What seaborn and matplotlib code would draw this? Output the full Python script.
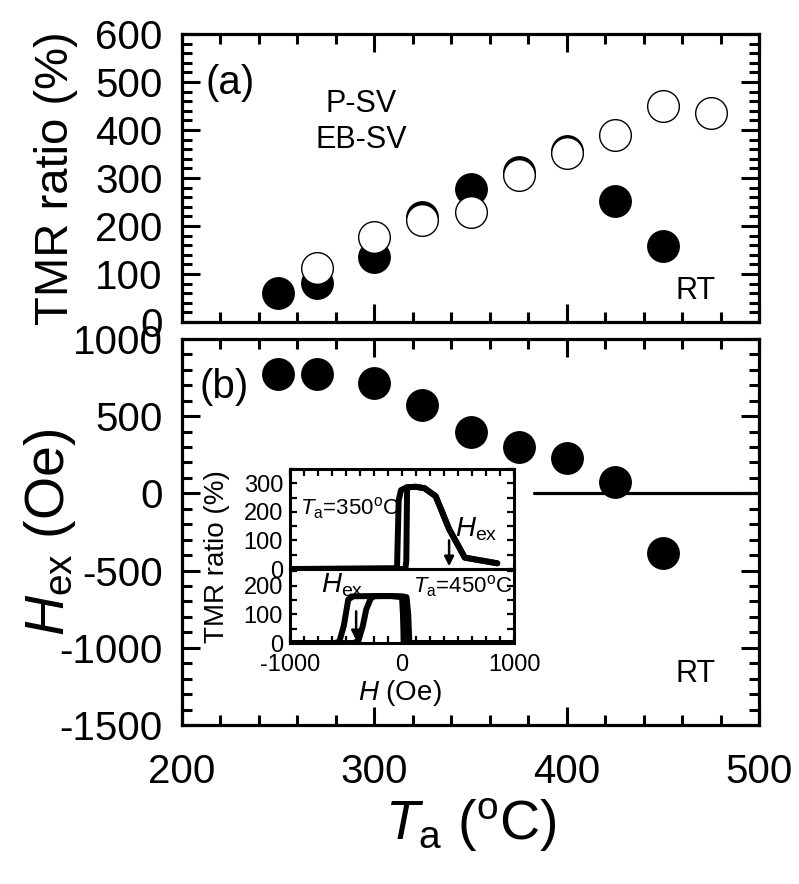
import numpy as np
import pandas as pd
import seaborn as sns
import matplotlib
matplotlib.use("Agg")
import matplotlib.pyplot as plt
from matplotlib.ticker import MultipleLocator

# (a) TMR ratio vs annealing temperature
ta_filled = [250, 270, 300, 325, 350, 375, 400, 425, 450]
tmr_filled = [60, 81, 135, 218, 278, 313, 357, 253, 159]
ta_open = [270, 300, 325, 350, 375, 400, 425, 450, 475]
tmr_open = [112, 177, 212, 229, 306, 352, 390, 450, 436]

# (b) exchange bias field vs annealing temperature
ta_hex = [250, 270, 300, 325, 350, 375, 400, 425, 450]
hex_vals = [770, 770, 716, 574, 400, 303, 232, 71, -387]
zero_line_t = [383, 500]
zero_line_h = [0, 0]

# inset: loops at Ta=350 C (top) and Ta=450 C (bottom)
h350_up = [-1000, -45, -30, -10, 40, 120, 200, 300, 420, 560, 850]
tmr350_up = [0, 3, 240, 276, 286, 288, 283, 255, 140, 40, 20]
h350_dn = [850, 560, 420, 300, 200, 120, 45, 38, 30, -1000]
tmr350_dn = [20, 40, 140, 255, 283, 288, 286, 30, 0, 0]

h450_dn = [1000, 65, 55, 40, 0, -200, -436, -480, -520, -560, -600, -1000]
tmr450_dn = [0, 0, 100, 160, 163, 164, 163, 152, 60, 5, 0, 0]
h450_up = [-1000, -430, -390, -350, -320, -280, -249, -100, 0, 8, 15, 1000]
tmr450_up = [0, 0, 8, 60, 117, 155, 163, 164, 160, 100, 0, 0]

sns.set_style("ticks")
plt.rcParams['font.family'] = ['Liberation Sans', 'DejaVu Sans']
plt.rcParams['mathtext.fontset'] = 'custom'
plt.rcParams['mathtext.rm'] = 'Liberation Sans'
plt.rcParams['mathtext.it'] = 'Liberation Sans:italic'
plt.rcParams['axes.unicode_minus'] = False
plt.rcParams['text.color'] = 'black'
plt.rcParams['axes.labelcolor'] = 'black'
plt.rcParams['xtick.color'] = 'black'
plt.rcParams['ytick.color'] = 'black'

fig = plt.figure(figsize=(7.99, 8.84), dpi=100)
ax_a = fig.add_axes([0.2278, 0.6357, 0.7222, 0.3258])
ax_b = fig.add_axes([0.2278, 0.1799, 0.7222, 0.4367])


def style_main(ax):
    for s in ax.spines.values():
        s.set_linewidth(2.3)
        s.set_color('black')
    ax.tick_params(which='both', direction='in', top=True, right=True,
                   width=2.2, colors='black', labelsize=29)
    ax.tick_params(which='major', length=13)
    ax.tick_params(which='minor', length=7)
    ax.tick_params(axis='y', pad=14)
    ax.tick_params(axis='x', pad=20)
    ax.set_xlim(200, 500)
    ax.xaxis.set_major_locator(MultipleLocator(100))
    ax.xaxis.set_minor_locator(MultipleLocator(20))


df_f = pd.DataFrame({'Ta': ta_filled, 'TMR': tmr_filled})
df_o = pd.DataFrame({'Ta': ta_open, 'TMR': tmr_open})
sns.scatterplot(data=df_f, x='Ta', y='TMR', ax=ax_a, s=560, color='black',
                linewidth=0, zorder=3)
sns.scatterplot(data=df_o, x='Ta', y='TMR', ax=ax_a, s=520, color='white',
                edgecolor='black', linewidth=1.0, zorder=4)
style_main(ax_a)
ax_a.set_ylim(0, 600)
ax_a.yaxis.set_major_locator(MultipleLocator(100))
ax_a.yaxis.set_minor_locator(MultipleLocator(20))
ax_a.tick_params(axis='x', labelbottom=False)
ax_a.set_xlabel('')
ax_a.set_ylabel('TMR ratio (%)', fontsize=34)
ax_a.yaxis.set_label_coords(-0.18, 0.5)
ax_a.text(212, 498, '(a)', fontsize=29, ha='left', va='center')
ax_a.text(293, 454, 'P-SV', fontsize=22, ha='center', va='center')
ax_a.text(293, 379, 'EB-SV', fontsize=22, ha='center', va='center')
ax_a.text(467, 65, 'RT', fontsize=22, ha='center', va='center')

df_b = pd.DataFrame({'Ta': ta_hex, 'Hex': hex_vals})
sns.lineplot(x=zero_line_t, y=zero_line_h, ax=ax_b, color='black', lw=2.3)
sns.scatterplot(data=df_b, x='Ta', y='Hex', ax=ax_b, s=560, color='black',
                linewidth=0, zorder=3)
style_main(ax_b)
ax_b.set_ylim(-1500, 1000)
ax_b.yaxis.set_major_locator(MultipleLocator(500))
ax_b.yaxis.set_minor_locator(MultipleLocator(100))
ax_b.set_ylabel(r'$H_{\mathrm{ex}}$ (Oe)', fontsize=40)
ax_b.yaxis.set_label_coords(-0.18, 0.5)
ax_b.set_xlabel(r'$T_{\mathrm{a}}$ ($^{\mathrm{o}}$C)', fontsize=40)
ax_b.xaxis.set_label_coords(0.5, -0.185)
ax_b.text(209, 690, '(b)', fontsize=29, ha='left', va='center')
ax_b.text(467, -1168, 'RT', fontsize=22, ha='center', va='center')

# inset
in_top = fig.add_axes([0.3630, 0.3563, 0.2804, 0.1131])
in_bot = fig.add_axes([0.3630, 0.2726, 0.2804, 0.0837])
for ax in (in_top, in_bot):
    for s in ax.spines.values():
        s.set_linewidth(2.2)
        s.set_color('black')
    ax.set_facecolor('white')
    ax.set_xlim(-1000, 1000)
    ax.xaxis.set_major_locator(MultipleLocator(1000))
    ax.xaxis.set_minor_locator(MultipleLocator(125))
    ax.yaxis.set_major_locator(MultipleLocator(100))
    ax.yaxis.set_minor_locator(MultipleLocator(50))
    ax.tick_params(which='both', direction='in', left=True, right=True,
                   width=1.6, length=5, labelsize=17, colors='black')
    ax.tick_params(axis='y', pad=5)
    ax.tick_params(axis='x', pad=8)

sns.lineplot(x=h350_up, y=tmr350_up, ax=in_top, sort=False, estimator=None,
             color='black', lw=4.3)
sns.lineplot(x=h350_dn, y=tmr350_dn, ax=in_top, sort=False, estimator=None,
             color='black', lw=4.3)
in_top.set_ylim(0, 350)
in_top.tick_params(axis='x', which='both', top=True, bottom=False,
                   labelbottom=False)
in_top.annotate('', xy=(420, 0), xytext=(420, 110),
                arrowprops=dict(arrowstyle='-|>', lw=1.8, color='black',
                                mutation_scale=14))
in_top.text(-470, 189, r'$\mathit{T}_{\mathrm{a}}$=350$^{\mathrm{o}}$C',
            fontsize=16, ha='center', va='baseline')
in_top.text(470, 115, r'$\mathit{H}_{\mathrm{ex}}$', fontsize=20,
            ha='left', va='baseline')

sns.lineplot(x=h450_dn, y=tmr450_dn, ax=in_bot, sort=False, estimator=None,
             color='black', lw=4.3)
sns.lineplot(x=h450_up, y=tmr450_up, ax=in_bot, sort=False, estimator=None,
             color='black', lw=4.3)
in_bot.set_ylim(0, 258)
in_bot.tick_params(axis='x', which='both', top=False, bottom=True)
in_bot.annotate('', xy=(-410, 0), xytext=(-410, 120),
                arrowprops=dict(arrowstyle='-|>', lw=1.8, color='black',
                                mutation_scale=14))
in_bot.text(-720, 176, r'$\mathit{H}_{\mathrm{ex}}$', fontsize=20,
            ha='left', va='baseline')
in_bot.text(95, 176, r'$\mathit{T}_{\mathrm{a}}$=450$^{\mathrm{o}}$C',
            fontsize=16, ha='left', va='baseline')
for ax in (in_top, in_bot):
    ax.set_xlabel('')
    ax.set_ylabel('')

fig.text(217 / 799, 1 - 557 / 884, 'TMR ratio (%)', fontsize=20,
         rotation=90, ha='center', va='center')
fig.text(400 / 799, 1 - 693 / 884, r'$\mathit{H}$ (Oe)', fontsize=20,
         ha='center', va='center')

fig.savefig('out.png', dpi=100)
